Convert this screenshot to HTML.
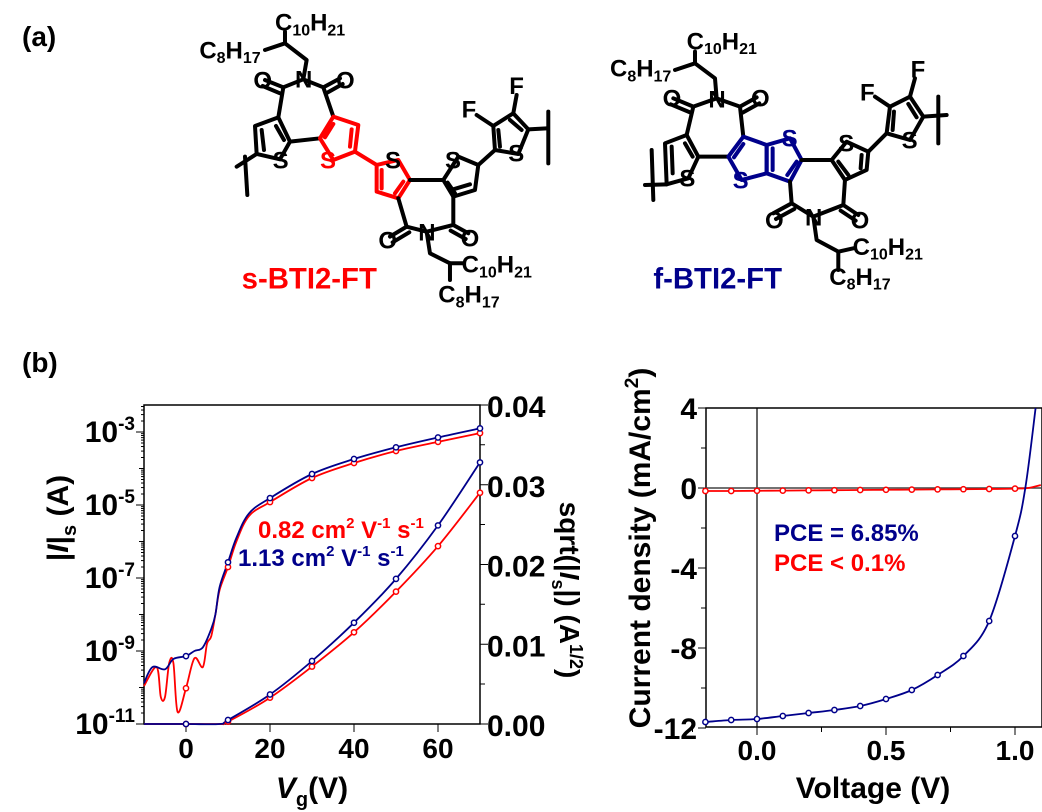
<!DOCTYPE html>
<html><head><meta charset="utf-8"><style>
body{margin:0;background:#fff;}
svg{display:block;font-family:"Liberation Sans",Arial,sans-serif;}
.mol line,.mol polyline,.mol polygon{stroke-linecap:round;stroke-linejoin:round;fill:none;}
</style></head><body>
<svg id="fig" width="1042" height="812" viewBox="0 0 1042 812">
<text x="22" y="46" font-weight="bold" font-size="28">(a)</text>
<text x="22" y="372" font-weight="bold" font-size="28">(b)</text>

<!-- Structure 1 -->
<g class="mol" transform="translate(190,0) scale(0.3333)" stroke="#000" stroke-width="12" font-size="72" font-weight="bold">
<polyline points="140,500 200,462"/>
<line x1="165" y1="470" x2="172" y2="585"/>
<polygon points="200,462 195,378 265,352 300,425 270,478"/>
<line x1="215" y1="390" x2="222" y2="450"/><line x1="258" y1="378" x2="282" y2="420"/>
<polyline points="265,352 280,262 340,238 400,262 430,350"/>
<line x1="280" y1="262" x2="225" y2="240"/><line x1="270" y1="280" x2="218" y2="258"/>
<line x1="400" y1="262" x2="450" y2="235"/><line x1="408" y1="280" x2="458" y2="252"/>
<polyline points="340,238 350,180 285,130 285,95"/><line x1="285" y1="130" x2="225" y2="150"/>
<line x1="300" y1="425" x2="390" y2="415"/>
<g stroke="#f00"><polygon points="430,350 505,375 495,455 430,480 390,415"/>
<line x1="430" y1="372" x2="405" y2="412"/><line x1="485" y1="388" x2="480" y2="440"/>
<line x1="495" y1="455" x2="560" y2="495"/>
<polygon points="560,495 625,480 660,540 625,595 560,575"/>
<line x1="575" y1="510" x2="575" y2="565"/><line x1="640" y1="545" x2="615" y2="580"/></g>
<line x1="660" y1="540" x2="760" y2="540"/>
<polyline points="625,595 650,680 710,695 790,675 790,590"/>
<line x1="650" y1="680" x2="600" y2="710"/><line x1="658" y1="697" x2="608" y2="727"/>
<line x1="790" y1="675" x2="835" y2="700"/><line x1="782" y1="692" x2="827" y2="717"/>
<polygon points="790,590 855,570 865,495 805,470 760,540"/>
<line x1="790" y1="568" x2="840" y2="553"/><line x1="773" y1="548" x2="795" y2="580"/>
<line x1="865" y1="495" x2="915" y2="450"/>
<polygon points="915,450 985,462 1015,388 970,340 910,378"/>
<line x1="930" y1="440" x2="925" y2="390"/><line x1="960" y1="360" x2="995" y2="390"/>
<line x1="970" y1="340" x2="980" y2="285"/><line x1="910" y1="378" x2="860" y2="345"/>
<line x1="1015" y1="388" x2="1070" y2="385"/><line x1="1075" y1="335" x2="1075" y2="490"/>
<polyline points="710,695 720,760 780,790 820,790"/><line x1="780" y1="790" x2="780" y2="840"/>
<g stroke="none" fill="#000">
<text x="248" y="505">S</text><text x="585" y="505">S</text><text x="765" y="505">S</text><text x="955" y="485">S</text>
<text x="315" y="262">N</text><text x="685" y="722">N</text>
<text x="190" y="266">O</text><text x="438" y="266">O</text><text x="565" y="745">O</text><text x="812" y="740">O</text>
<text x="958" y="282">F</text><text x="815" y="352">F</text>
<text x="255" y="92">C<tspan font-size="48" dy="14">10</tspan><tspan dy="-14">H</tspan><tspan font-size="48" dy="14">21</tspan></text>
<text x="28" y="175">C<tspan font-size="48" dy="14">8</tspan><tspan dy="-14">H</tspan><tspan font-size="48" dy="14">17</tspan></text>
<text x="815" y="818">C<tspan font-size="48" dy="14">10</tspan><tspan dy="-14">H</tspan><tspan font-size="48" dy="14">21</tspan></text>
<text x="745" y="908">C<tspan font-size="48" dy="14">8</tspan><tspan dy="-14">H</tspan><tspan font-size="48" dy="14">17</tspan></text>
<text x="390" y="505" fill="#f00">S</text>
</g>
<text x="155" y="865" fill="#f00" stroke="none" font-size="88">s-BTI2-FT</text>
</g>

<!-- Structure 2 -->
<g class="mol" transform="translate(590,0) scale(0.3333)" stroke="#000" stroke-width="12" font-size="72" font-weight="bold">
<line x1="165" y1="555" x2="230" y2="553"/><line x1="185" y1="450" x2="190" y2="600"/>
<polygon points="230,553 225,430 290,405 325,470 295,535"/>
<line x1="245" y1="440" x2="248" y2="520"/><line x1="285" y1="430" x2="308" y2="470"/>
<polyline points="290,405 310,320 380,295 450,320 460,410"/>
<line x1="310" y1="320" x2="250" y2="295"/><line x1="302" y1="338" x2="242" y2="313"/>
<line x1="450" y1="320" x2="500" y2="292"/><line x1="458" y1="338" x2="508" y2="310"/>
<polyline points="380,295 375,235 315,190 315,155"/><line x1="315" y1="190" x2="255" y2="210"/>
<line x1="325" y1="470" x2="415" y2="470"/>
<g stroke="#00008b"><polygon points="460,410 530,435 530,520 455,540 415,470"/>
<polygon points="530,435 600,415 635,480 600,545 530,520"/>
<line x1="460" y1="432" x2="432" y2="472"/><line x1="548" y1="445" x2="548" y2="510"/><line x1="620" y1="485" x2="592" y2="525"/></g>
<line x1="635" y1="480" x2="725" y2="480"/>
<polygon points="725,480 770,425 835,455 830,510 765,540"/>
<line x1="745" y1="485" x2="775" y2="525"/><line x1="815" y1="465" x2="812" y2="505"/>
<polyline points="600,545 605,610 670,650 760,615 765,540"/>
<line x1="605" y1="610" x2="550" y2="640"/><line x1="613" y1="627" x2="558" y2="657"/>
<line x1="760" y1="615" x2="805" y2="645"/><line x1="752" y1="632" x2="797" y2="662"/>
<line x1="835" y1="455" x2="890" y2="400"/>
<polygon points="890,400 960,420 1000,350 960,290 900,320"/>
<line x1="908" y1="390" x2="912" y2="335"/><line x1="955" y1="312" x2="980" y2="352"/>
<line x1="960" y1="290" x2="975" y2="235"/><line x1="900" y1="320" x2="855" y2="290"/>
<line x1="1000" y1="350" x2="1070" y2="345"/><line x1="1045" y1="290" x2="1045" y2="430"/>
<polyline points="670,650 680,720 745,755 790,745"/><line x1="745" y1="755" x2="745" y2="810"/>
<g stroke="none" fill="#000">
<text x="268" y="560">S</text><text x="745" y="455">S</text><text x="935" y="445">S</text>
<text x="355" y="322">N</text><text x="645" y="676">N</text>
<text x="218" y="320">O</text><text x="483" y="320">O</text><text x="525" y="685">O</text><text x="782" y="685">O</text>
<text x="962" y="232">F</text><text x="810" y="302">F</text>
<text x="290" y="148">C<tspan font-size="48" dy="14">10</tspan><tspan dy="-14">H</tspan><tspan font-size="48" dy="14">21</tspan></text>
<text x="60" y="230">C<tspan font-size="48" dy="14">8</tspan><tspan dy="-14">H</tspan><tspan font-size="48" dy="14">17</tspan></text>
<text x="788" y="765">C<tspan font-size="48" dy="14">10</tspan><tspan dy="-14">H</tspan><tspan font-size="48" dy="14">21</tspan></text>
<text x="718" y="855">C<tspan font-size="48" dy="14">8</tspan><tspan dy="-14">H</tspan><tspan font-size="48" dy="14">17</tspan></text>
<text x="428" y="565" fill="#00008b">S</text><text x="575" y="440" fill="#00008b">S</text>
</g>
<text x="190" y="865" fill="#00008b" stroke="none" font-size="88">f-BTI2-FT</text>
</g>

<g id="left"></g>
<g id="right"></g>
</svg>
<script>
// ---- Transfer chart data ----
const vgBlueLog = [-10,-8,-5,-3,0,2,4,6,7,8,10,12,15,20,30,40,50,60,70];
const blueLogDec = [1.12,1.56,1.5,1.78,1.86,2.0,2.1,2.6,3.0,3.75,4.43,5.1,5.77,6.19,6.85,7.26,7.58,7.85,8.1];
const vgRedLog = [-10,-7,-6,-5,-4,-3,-2,0,2,4,5,6,7,8,10,12,15,20,30,40,50,60,70];
const redLogDec = [1.04,1.56,0.74,0.74,1.67,1.67,0.33,0.98,1.8,1.56,2.2,2.4,3.0,3.67,4.3,5.0,5.7,6.08,6.74,7.15,7.48,7.73,7.97];
const vgSqrt = [-10,0,8,10,20,30,40,50,60,70];
const blueSqrt = [0,0,0,0.0005,0.0037,0.0079,0.0127,0.0182,0.0249,0.0328];
const redSqrt = [0,0,0,0.0003,0.0033,0.0072,0.0115,0.0166,0.0223,0.029];
const vgMarkers = [0,10,20,30,40,50,60,70];
const xTicksL = [0,20,40,60];
const logTicks = [-3,-5,-7,-9,-11];
const sqrtTicks = ["0.00","0.01","0.02","0.03","0.04"];
// ---- JV data ----
const vJ = [-0.2,-0.1,0,0.1,0.2,0.3,0.4,0.5,0.6,0.7,0.8,0.9,1.0,1.04,1.08];
const jBlue = [-11.7,-11.6,-11.55,-11.4,-11.25,-11.1,-10.9,-10.55,-10.1,-9.35,-8.4,-6.65,-2.4,0,4];
const vRed = [-0.2,-0.1,0,0.1,0.2,0.3,0.4,0.5,0.6,0.7,0.8,0.9,1.0,1.05,1.1];
const jRed = [-0.15,-0.15,-0.14,-0.13,-0.12,-0.11,-0.1,-0.09,-0.08,-0.07,-0.06,-0.05,-0.03,0.0,0.15];
const xTicksR = [0,0.5,1.0];
const yTicksR = [4,0,-4,-8,-12];

const NS="http://www.w3.org/2000/svg";
function mk(p,t,a,txt){const e=document.createElementNS(NS,t);for(const k in a)e.setAttribute(k,a[k]);if(txt!==undefined)e.textContent=txt;p.appendChild(e);return e;}
const BLUE="#00008b",RED="#f00";
const L=document.getElementById('left');
const lx=v=>144+(v+10)*(336/80);
const ly=d=>724-d*36.5;
const sy=s=>724-s*(319/0.04);
let e;
e=mk(L,'rect',{x:144,y:405,width:336,height:319,fill:'none',stroke:'#000','stroke-width':1.5});


for(let d=0;d<=8.7;d+=1){for(let m=1;m<10;m++){const yy=ly(d+Math.log10(m));if(yy<405)continue;mk(L,'line',{x1:144,x2:144-(m==1?(d%2==0?8:5):3),y1:yy,y2:yy,stroke:'#000','stroke-width':1});}}
logTicks.forEach(t=>{const g=mk(L,'text',{x:135,y:ly(t+11)+10,'text-anchor':'end','font-size':30,'font-weight':'bold'});


g.appendChild(document.createTextNode('10'));mk(g,'tspan',{dy:-12,'font-size':19},String(t));});
xTicksL.forEach(t=>{mk(L,'line',{x1:lx(t),x2:lx(t),y1:724,y2:732,stroke:'#000'});
e=mk(L,'text',{x:lx(t),y:758,'text-anchor':'middle','font-size':28,'font-weight':'bold'},String(t));

});
sqrtTicks.forEach((t,i)=>{const yy=sy(i*0.01);mk(L,'line',{x1:480,x2:488,y1:yy,y2:yy,stroke:'#000'});if(i<4)mk(L,'line',{x1:480,x2:485,y1:yy-40,y2:yy-40,stroke:'#000'});
e=mk(L,'text',{x:487,y:yy+12,'font-size':30,'font-weight':'bold'},t);

});
function path(p,xs,ys,fx,fy,col,name){
const P=xs.map((x,i)=>[fx(x),fy(ys[i])]);
let d='M'+P[0][0].toFixed(1)+','+P[0][1].toFixed(1);
for(let i=0;i<P.length-1;i++){const p0=P[Math.max(0,i-1)],p1=P[i],p2=P[i+1],p3=P[Math.min(P.length-1,i+2)];
const c1=[p1[0]+(p2[0]-p0[0])/6,p1[1]+(p2[1]-p0[1])/6],c2=[p2[0]-(p3[0]-p1[0])/6,p2[1]-(p3[1]-p1[1])/6];
d+='C'+c1[0].toFixed(1)+','+c1[1].toFixed(1)+' '+c2[0].toFixed(1)+','+c2[1].toFixed(1)+' '+p2[0].toFixed(1)+','+p2[1].toFixed(1);}
const el=mk(p,'path',{d:d,fill:'none',stroke:col,'stroke-width':1.8});

return el;}
const cl=mk(document.getElementById('fig'),'clipPath',{id:'cr'});mk(cl,'rect',{x:706,y:408,width:336,height:319});
path(L,vgRedLog,redLogDec,lx,ly,RED,'red-log-curve');
path(L,vgBlueLog,blueLogDec,lx,ly,BLUE,'blue-log-curve');
path(L,vgSqrt,redSqrt,lx,sy,RED,'red-sqrt-curve');
path(L,vgSqrt,blueSqrt,lx,sy,BLUE,'blue-sqrt-curve');
function interp(xs,ys,x){for(let i=0;i<xs.length-1;i++){if(x>=xs[i]&&x<=xs[i+1]){return ys[i]+(ys[i+1]-ys[i])*(x-xs[i])/(xs[i+1]-xs[i]);}}return ys[ys.length-1];}
vgMarkers.forEach(v=>{[[vgRedLog,redLogDec,ly,RED],[vgBlueLog,blueLogDec,ly,BLUE],[vgSqrt,redSqrt,sy,RED],[vgSqrt,blueSqrt,sy,BLUE]].forEach(s=>{
const c=mk(L,'circle',{cx:lx(v),cy:s[2](interp(s[0],s[1],v)),r:2.6,fill:'#fff',stroke:s[3],'stroke-width':1.5});

});});
e=mk(L,'text',{x:258,y:538,'font-size':24,'font-weight':'bold',fill:RED},'');


e.innerHTML='0.82 cm<tspan dy="-10" font-size="15">2</tspan><tspan dy="10"> V</tspan><tspan dy="-10" font-size="15">-1</tspan><tspan dy="10"> s</tspan><tspan dy="-10" font-size="15">-1</tspan>';
e=mk(L,'text',{x:238,y:566,'font-size':24,'font-weight':'bold',fill:BLUE},'');


e.innerHTML='1.13 cm<tspan dy="-10" font-size="15">2</tspan><tspan dy="10"> V</tspan><tspan dy="-10" font-size="15">-1</tspan><tspan dy="10"> s</tspan><tspan dy="-10" font-size="15">-1</tspan>';
e=mk(L,'text',{x:0,y:0,transform:'translate(68,518) rotate(-90)','text-anchor':'middle','font-size':30,'font-weight':'bold'},'');


e.innerHTML='|<tspan font-style="italic">I</tspan>|<tspan dy="8" font-size="20">s</tspan><tspan dy="-8"> (A)</tspan>';
e=mk(L,'text',{x:0,y:0,transform:'translate(560,590) rotate(90)','text-anchor':'middle','font-size':28,'font-weight':'bold'},'');


e.innerHTML='sqrt(|<tspan font-style="italic">I</tspan><tspan dy="8" font-size="18">s</tspan><tspan dy="-8">|) (A</tspan><tspan dy="-10" font-size="18">1/2</tspan><tspan dy="10">)</tspan>';
e=mk(L,'text',{x:312,y:798,'text-anchor':'middle','font-size':30,'font-weight':'bold'},'');


e.innerHTML='<tspan font-style="italic">V</tspan><tspan dy="8" font-size="20">g</tspan><tspan dy="-8">(V)</tspan>';

const R=document.getElementById('right');
const rx=v=>757+v*258;
const ry=j=>488-j*20;
e=mk(R,'rect',{x:706,y:408,width:336,height:319,fill:'none',stroke:'#000','stroke-width':1.5});


mk(R,'line',{x1:rx(0),x2:rx(0),y1:408,y2:727,stroke:'#000','stroke-width':1.2});
mk(R,'line',{x1:706,x2:1042,y1:ry(0),y2:ry(0),stroke:'#444','stroke-width':1.5});
yTicksR.forEach((t,i)=>{mk(R,'line',{x1:698,x2:706,y1:ry(t),y2:ry(t),stroke:'#000'});if(i<4)mk(R,'line',{x1:701,x2:706,y1:ry(t)+40,y2:ry(t)+40,stroke:'#000'});
e=mk(R,'text',{x:697,y:ry(t)+11,'text-anchor':'end','font-size':30,'font-weight':'bold'},String(t));

});
xTicksR.forEach(t=>{mk(R,'line',{x1:rx(t),x2:rx(t),y1:727,y2:735,stroke:'#000'});mk(R,'line',{x1:rx(t-0.25),x2:rx(t-0.25),y1:727,y2:732,stroke:'#000'});
e=mk(R,'text',{x:rx(t),y:760,'text-anchor':'middle','font-size':28,'font-weight':'bold'},t.toFixed(1));

});
const RC=mk(R,'g',{'clip-path':'url(#cr)'});
path(RC,vRed,jRed,rx,ry,RED,'red-jv-curve');
path(RC,vJ,jBlue,rx,ry,BLUE,'blue-jv-curve');
vRed.slice(0,13).forEach((v,i)=>{const c=mk(R,'circle',{cx:rx(v),cy:ry(jRed[i]),r:2.6,fill:'#fff',stroke:RED,'stroke-width':1.5});

});
vJ.slice(0,13).forEach((v,i)=>{const c=mk(R,'circle',{cx:rx(v),cy:ry(jBlue[i]),r:2.6,fill:'#fff',stroke:BLUE,'stroke-width':1.5});

});
e=mk(R,'text',{x:774,y:541,'font-size':24,'font-weight':'bold',fill:BLUE},'PCE = 6.85%');


e=mk(R,'text',{x:774,y:571,'font-size':24,'font-weight':'bold',fill:RED},'PCE < 0.1%');


e=mk(R,'text',{x:0,y:0,transform:'translate(650,548) rotate(-90)','text-anchor':'middle','font-size':30,'font-weight':'bold'},'');


e.innerHTML='Current density (mA/cm<tspan dy="-12" font-size="19">2</tspan><tspan dy="12">)</tspan>';
e=mk(R,'text',{x:873,y:798,'text-anchor':'middle','font-size':30,'font-weight':'bold'},'Voltage (V)');


</script>
</body></html>
